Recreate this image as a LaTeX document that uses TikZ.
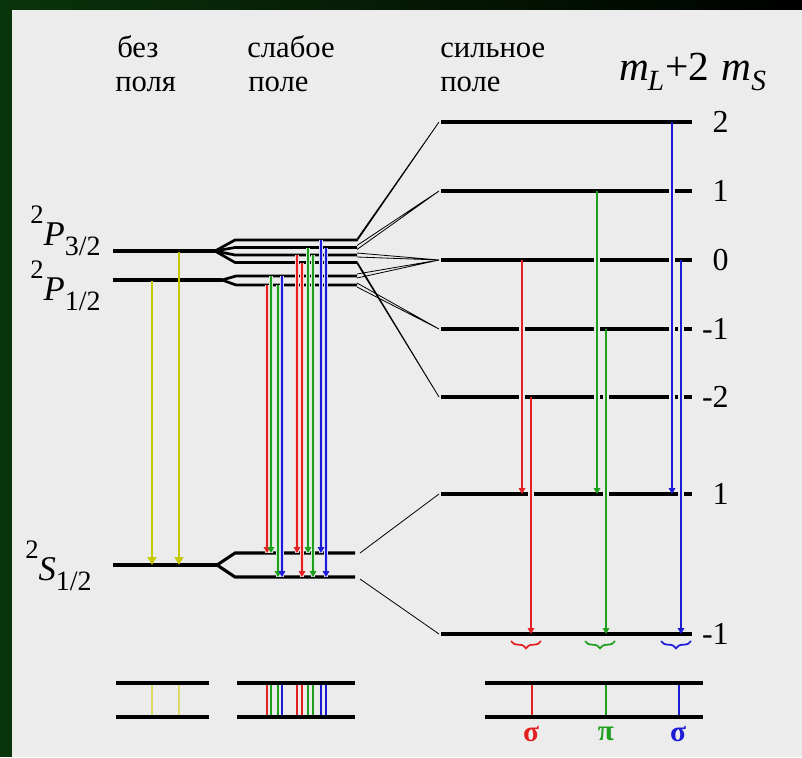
\documentclass[tikz,border=0pt]{standalone}
\usepackage{fontspec}
\setmainfont{Liberation Serif}
\newfontfamily\tnr{Liberation Serif}
\usetikzlibrary{arrows.meta,decorations.pathreplacing,calc}
\definecolor{bg}{RGB}{236,236,236}
\definecolor{frameg}{RGB}{10,52,10}
\definecolor{cr}{RGB}{228,32,32}
\definecolor{cg}{RGB}{30,160,30}
\definecolor{cb}{RGB}{28,28,215}
\definecolor{cy}{RGB}{200,200,0}
\definecolor{cyl}{RGB}{218,218,100}
\begin{document}
\begin{tikzpicture}[x=0.75pt,y=-0.75pt,
  lvl/.style={line width=2.3pt},
  sub/.style={line width=2pt,line join=round},
  conn/.style={line width=0.6pt,line join=miter},
  wtr/.style={line width=1pt,-{Triangle[length=4.5pt,width=5pt]}},
  str/.style={line width=0.9pt,-{Triangle[length=4.5pt,width=5pt]}},
  ytr/.style={line width=2pt,cy,-{Triangle[length=6pt,width=6.5pt]}},
  gap/.style={draw=bg,line width=4.5pt,shorten <=3pt,shorten >=3pt},
  spec/.style={line width=1pt},
  txt/.style={font=\tnr\fontsize{23}{23}\selectfont,inner sep=0pt},
  num/.style={font=\tnr\fontsize{24}{24}\selectfont,inner sep=0pt,anchor=east},
  brc/.style={line width=1.3pt,decorate,decoration={brace,mirror,amplitude=5.5pt}}]
\useasboundingbox (0,0) rectangle (802,757);
\fill[frameg] (0,0) rectangle (802,757);
\shade[left color=frameg,right color=black] (0,0) rectangle (802,10);
\fill[bg] (12,10) rectangle (802,757);

% headings
\node[txt,anchor=base west] (h1a) at (117,57) {без};
\node[txt,anchor=base west] (h1b) at (115,91) {поля};
\node[txt,anchor=base west] (h2a) at (247,57) {слабое};
\node[txt,anchor=base west] (h2b) at (248,91) {поле};
\node[txt,anchor=base west] (h3a) at (440,57) {сильное};
\node[txt,anchor=base west] (h3b) at (440,91) {поле};
\node[txt,anchor=base west,font=\tnr\fontsize{31}{31}\selectfont] (h4) at (619,80) {\itshape m\kern-1pt\raisebox{-8pt}{\fontsize{22}{22}\selectfont L}\upshape\kern1pt+2\kern9pt\itshape m\raisebox{-8pt}{\fontsize{22}{22}\selectfont S}};

% term labels
\node[txt,anchor=base west,font=\tnr\fontsize{26}{26}\selectfont] (lP3) at (30,245) {\raisebox{16pt}{\fontsize{20}{20}\selectfont 2}\itshape P\upshape\raisebox{-8pt}{\fontsize{21}{21}\selectfont 3/2}};
\node[txt,anchor=base west,font=\tnr\fontsize{26}{26}\selectfont] (lP1) at (30,300) {\raisebox{16pt}{\fontsize{20}{20}\selectfont 2}\itshape P\upshape\raisebox{-8pt}{\fontsize{21}{21}\selectfont 1/2}};
\node[txt,anchor=base west,font=\tnr\fontsize{26}{26}\selectfont] (lS) at (25,580) {\raisebox{16pt}{\fontsize{20}{20}\selectfont 2}\itshape S\upshape\raisebox{-8pt}{\fontsize{21}{21}\selectfont 1/2}};

% zero-field levels
\coordinate (P3a) at (113,251); \coordinate (P3b) at (215,251);
\coordinate (P1a) at (113,280); \coordinate (P1b) at (222,280);
\coordinate (Sa) at (113,565); \coordinate (Sb) at (217,565);
\draw[lvl] (P3a) -- (P3b);
\draw[lvl] (P1a) -- (P1b);
\draw[lvl] (Sa) -- (Sb);

% weak-field sublevels
\foreach \y [count=\i] in {240,247.5,255,262.5} {
  \coordinate (wq\i) at (235,\y); \coordinate (wr\i) at (357,\y);
  \draw[sub] (P3b) -- (wq\i) -- (wr\i);
}
\foreach \y [count=\i] in {276,285} {
  \coordinate (vq\i) at (236,\y); \coordinate (vr\i) at (357,\y);
  \draw[sub] (P1b) -- (vq\i) -- (vr\i);
}
\foreach \y [count=\i] in {553,577} {
  \coordinate (uq\i) at (235,\y); \coordinate (ur\i) at (355,\y);
  \draw[sub,line width=2.3pt] (Sb) -- (uq\i) -- (ur\i);
}

% strong-field levels
\foreach \n/\y in {a/122,b/191,c/260,d/329,e/397,f/494,g/634} {
  \coordinate (sl\n) at (439,\y); \coordinate (sr\n) at (692,\y);
}
\foreach \n/\y in {a/122,b/191,c/260,d/329,e/397,f/494,g/634} {
  \coordinate (sk\n) at (441,\y);
}

% correlation connectors (thin wedges)
\draw[conn] ($(wr1)+(0,-1)$) -- (sla) -- ($(wr1)+(0,1)$);
\draw[conn] ($(wr2)+(0,-2)$) -- (slb) -- ($(wr2)+(0,2)$);
\draw[conn] ($(wr3)+(0,-2)$) -- (slc) -- ($(wr3)+(0,2)$);
\draw[conn] ($(wr4)+(0,-1)$) -- (sle) -- ($(wr4)+(0,1)$);
\draw[conn] ($(vr1)+(0,-2)$) -- (slc) -- ($(vr1)+(0,2)$);
\draw[conn] ($(vr2)+(0,-2)$) -- (sld) -- ($(vr2)+(0,2)$);
\coordinate (ur1c) at (360,553); \coordinate (ur2c) at (360,579);
\draw[conn] (ur1c) -- (slf);
\draw[conn] (ur2c) -- (slg);

% zero-field transitions
\coordinate (y1s) at (152,281); \coordinate (y1e) at (152,565);
\coordinate (y2s) at (179,252); \coordinate (y2e) at (179,565);
\draw[ytr] (y1s) -- (y1e);
\draw[ytr] (y2s) -- (y2e);

% weak-field transitions
\foreach \x/\ys/\ye/\c [count=\i] in {267/285/553/cr,271/276/553/cg,278/285/577/cg,282/276/577/cb,297/255/553/cr,302/262.5/577/cr,308/247.5/553/cg,313/255/577/cg,321/240/553/cb,326/247.5/577/cb} {
  \coordinate (ws\i) at (\x,\ys); \coordinate (we\i) at (\x,\ye);
  \draw[line width=3pt,\c!18] (ws\i) -- (we\i);
}
\foreach \i/\c in {1/cr,2/cg,3/cg,4/cb,5/cr,6/cr,7/cg,8/cg,9/cb,10/cb} {
  \draw[wtr,\c] (ws\i) -- (we\i);
}

% strong-field transitions: levels, gaps, then arrows
\foreach \x/\ys/\ye [count=\i] in {522/260/494,597/191/494,672/122/494,531/397/634,606/329/634,681/260/634} {
  \coordinate (ss\i) at (\x,\ys); \coordinate (se\i) at (\x,\ye);
}
\foreach \n in {a,b,c,d,e,f,g} { \draw[lvl] (sk\n) -- (sr\n); }
\foreach \i in {1,...,6} { \draw[gap] (ss\i) -- (se\i); }
\foreach \i/\c in {1/cr,2/cg,3/cb,4/cr,5/cg,6/cb} { \draw[str,\c] (ss\i) -- (se\i); }

% level labels
\node[num] (na) at (729,122) {2};
\node[num] (nb) at (729,191) {1};
\node[num] (nc) at (729,260) {0};
\node[num] (nd) at (729,329) {-1};
\node[num] (ne) at (729,397) {-2};
\node[num] (nf) at (729,494) {1};
\node[num] (ng) at (729,634) {-1};

% braces
\coordinate (br1a) at (511,641); \coordinate (br1b) at (541,641);
\coordinate (br2a) at (585,641); \coordinate (br2b) at (615,641);
\coordinate (br3a) at (661,641); \coordinate (br3b) at (691,641);
\draw[brc,cr] (br1a) -- (br1b);
\draw[brc,cg] (br2a) -- (br2b);
\draw[brc,cb] (br3a) -- (br3b);

% spectra
\coordinate (k1a) at (116,683); \coordinate (k1b) at (209,683);
\coordinate (k1c) at (116,717); \coordinate (k1d) at (209,717);
\coordinate (k2a) at (237,683); \coordinate (k2b) at (355,683);
\coordinate (k2c) at (237,717); \coordinate (k2d) at (355,717);
\coordinate (k3a) at (485,683); \coordinate (k3b) at (703,683);
\coordinate (k3c) at (485,717); \coordinate (k3d) at (703,717);
\foreach \x in {152,179} { \draw[spec,cyl,line width=1.2pt] (\x,683) -- (\x,717); }
\foreach \x/\c in {267/cr,271/cg,278/cg,282/cb,297/cr,302/cr,308/cg,313/cg,321/cb,326/cb} {
  \draw[spec,\c] (\x,683) -- (\x,717);
}
\foreach \x/\c in {532/cr,606/cg,679/cb} { \draw[spec,\c] (\x,683) -- (\x,717); }
\draw[lvl,line width=2.6pt] (k1a) -- (k1b); \draw[lvl,line width=2.6pt] (k1c) -- (k1d);
\draw[lvl,line width=2.6pt] (k2a) -- (k2b); \draw[lvl,line width=2.6pt] (k2c) -- (k2d);
\draw[lvl,line width=2.6pt] (k3a) -- (k3b); \draw[lvl,line width=2.6pt] (k3c) -- (k3d);

\node[txt,cr,font=\tnr\fontsize{22}{22}\selectfont\bfseries] (sg1) at (531,734) {σ};
\node[txt,cg,font=\tnr\fontsize{22}{22}\selectfont\bfseries] (pi1) at (606,734) {π};
\node[txt,cb,font=\tnr\fontsize{22}{22}\selectfont\bfseries] (sg2) at (678,734) {σ};
\end{tikzpicture}
\end{document}
